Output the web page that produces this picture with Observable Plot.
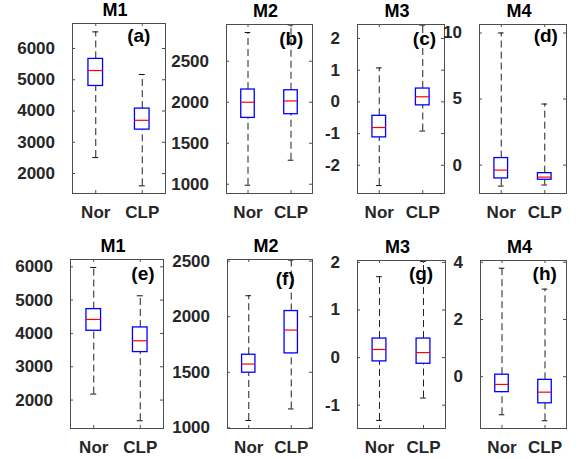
<!DOCTYPE html>
<html>
<head>
<meta charset="utf-8">
<script src="https://cdn.jsdelivr.net/npm/d3@7"></script>
<script src="https://cdn.jsdelivr.net/npm/@observablehq/plot@0.6"></script>
<style>
  html, body { margin: 0; padding: 0; background: #fff; }
  #chart { position: relative; width: 579px; height: 459px; background: #fff; overflow: hidden; }
  #chart svg { position: absolute; }
</style>
</head>
<body>
<div id="chart"></div>
<script>
// ---- data ----
const groups = ["Nor", "CLP"];
const titles = ["M1", "M2", "M3", "M4", "M1", "M2", "M3", "M4"];
const tags = ["(a)", "(b)", "(c)", "(d)", "(e)", "(f)", "(g)", "(h)"];
// each row: [lower whisker, Q1, median, Q3, upper whisker] for Nor, CLP
const statsA = [[2510, 4801, 5295, 5667, 6532], [1606, 3404, 3702, 4077, 5167]];
const statsB = [[988, 1809, 2000, 2155, 2850], [1293, 1854, 2016, 2146, 2942]];
const statsC = [[-2.64, -1.12, -0.81, -0.44, 1.07], [-0.92, -0.11, 0.16, 0.42, 2.42]];
const statsD = [[-1.59, -1.01, -0.38, 0.53, 10], [-1.51, -1.11, -0.91, -0.61, 4.62]];
const statsE = [[2180, 4080, 4420, 4730, 5980], [1380, 3440, 3780, 4180, 5130]];
const statsF = [[1066, 1496, 1574, 1658, 2189], [1170, 1670, 1880, 2051, 2510]];
const statsG = [[-1.32, -0.08, 0.17, 0.40, 1.70], [-0.85, -0.13, 0.105, 0.40, 2.02]];
const statsH = [[-1.33, -0.54, -0.27, 0.07, 3.79], [-1.54, -0.93, -0.54, -0.11, 3.06]];
const ticksA = [2000, 3000, 4000, 5000, 6000];
const ticksB = [1000, 1500, 2000, 2500];
const ticksC = [-2, -1, 0, 1, 2];
const ticksD = [0, 5, 10];
const ticksE = [2000, 3000, 4000, 5000, 6000];
const ticksF = [1000, 1500, 2000, 2500];
const ticksG = [-1, 0, 1, 2];
const ticksH = [0, 2, 4];
const domainA = [1360, 6800];
const domainB = [887, 2948];
const domainC = [-2.89, 2.44];
const domainD = [-2.15, 10.64];
const domainE = [1147, 6219];
const domainF = [994, 2515];
const domainG = [-1.49, 2.04];
const domainH = [-1.81, 4.06];

// ---- layout (frame pixel boxes, tag offsets) ----
const layout = [
  {L: 72,  T: 23,  W: 93, H: 170, tagDx: -3.5, tagDy: 18},
  {L: 226, T: 24,  W: 86, H: 169, tagDx: 0.3,  tagDy: 20.5},
  {L: 357, T: 24,  W: 87, H: 169, tagDx: 1.7,  tagDy: 20},
  {L: 479, T: 24,  W: 87, H: 169, tagDx: 1,    tagDy: 17},
  {L: 70,  T: 259, W: 93, H: 169, tagDx: 2.7,  tagDy: 20.5},
  {L: 227, T: 259, W: 85, H: 169, tagDx: -6,   tagDy: 25.5},
  {L: 357, T: 260, W: 88, H: 168, tagDx: -2.5, tagDy: 19.5},
  {L: 480, T: 260, W: 86, H: 168, tagDx: -0.3, tagDy: 19.5}
];
const allStats = [statsA, statsB, statsC, statsD, statsE, statsF, statsG, statsH];
const allTicks = [ticksA, ticksB, ticksC, ticksD, ticksE, ticksF, ticksG, ticksH];
const allDomains = [domainA, domainB, domainC, domainD, domainE, domainF, domainG, domainH];

const mL = 55, mR = 12, mT = 26, mB = 32;
const boxHalf = 0.157, capHalf = 0.065;
const chart = document.getElementById("chart");

layout.forEach((lay, i) => {
  const rows = allStats[i].map((s, k) => ({
    g: groups[k], pos: k + 1, lo: s[0], q1: s[1], med: s[2], q3: s[3], hi: s[4]
  }));
  const svg = Plot.plot({
    width: mL + lay.W + mR,
    height: mT + lay.H + mB,
    marginLeft: mL, marginRight: mR, marginTop: mT, marginBottom: mB,
    style: {
      fontFamily: "'Liberation Sans', Arial, Helvetica, sans-serif",
      fontSize: "17px", fontWeight: "bold", color: "#262626",
      background: "none", overflow: "visible"
    },
    x: {domain: [0.5, 2.5], axis: null},
    y: {domain: allDomains[i], axis: null},
    marks: [
      // whiskers
      Plot.ruleX(rows, {x: "pos", y1: "q3", y2: "hi", stroke: "#222", strokeWidth: 1, strokeDasharray: "7,4"}),
      Plot.ruleX(rows, {x: "pos", y1: "lo", y2: "q1", stroke: "#222", strokeWidth: 1, strokeDasharray: "7,4"}),
      // caps
      Plot.ruleY(rows, {y: "hi", x1: d => d.pos - capHalf, x2: d => d.pos + capHalf, stroke: "#111", strokeWidth: 1}),
      Plot.ruleY(rows, {y: "lo", x1: d => d.pos - capHalf, x2: d => d.pos + capHalf, stroke: "#111", strokeWidth: 1}),
      // box
      Plot.rect(rows, {x1: d => d.pos - boxHalf, x2: d => d.pos + boxHalf, y1: "q1", y2: "q3", fill: "white", stroke: "#0000ff", strokeWidth: 1.3}),
      // median
      Plot.ruleY(rows, {y: "med", x1: d => d.pos - boxHalf, x2: d => d.pos + boxHalf, stroke: "#ff0000", strokeWidth: 1.2}),
      // inward ticks on all four sides
      Plot.tickY(allTicks[i], {y: d => d, insetRight: lay.W - 3, stroke: "#4d4d4d"}),
      Plot.tickY(allTicks[i], {y: d => d, insetLeft: lay.W - 3, stroke: "#4d4d4d"}),
      Plot.tickX([1, 2], {x: d => d, insetTop: lay.H - 3, stroke: "#4d4d4d"}),
      Plot.tickX([1, 2], {x: d => d, insetBottom: lay.H - 3, stroke: "#4d4d4d"}),
      Plot.frame({stroke: "#4d4d4d", strokeWidth: 1}),
      // tick labels
      Plot.axisY({ticks: allTicks[i], tickFormat: d => String(d), tickSize: 0, tickPadding: 17.5, label: null, fill: "#262626"}),
      Plot.axisX({ticks: [1, 2], tickFormat: d => groups[d - 1], tickSize: 0, tickPadding: 12, label: null, fill: "#262626"}),
      // title
      Plot.text([titles[i]], {text: d => d, frameAnchor: "top", lineAnchor: "bottom", dy: -8, dx: -4, fontSize: 18, fill: "#000"}),
      // panel tag
      Plot.text([tags[i]], {text: d => d, x: () => 2, frameAnchor: "top", lineAnchor: "bottom", dy: lay.tagDy, dx: lay.tagDx, fontSize: 19, fill: "#000"})
    ]
  });
  svg.style.left = (lay.L - mL) + "px";
  svg.style.top = (lay.T - mT) + "px";
  chart.appendChild(svg);
});
</script>
</body>
</html>
